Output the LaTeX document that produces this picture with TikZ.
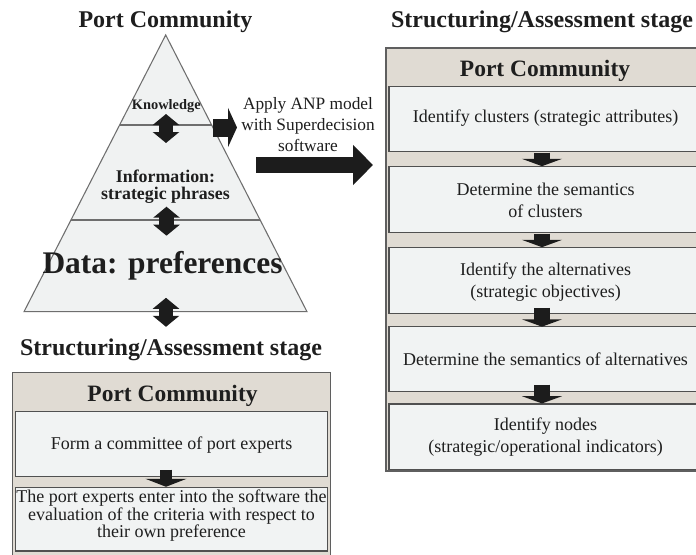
\documentclass[tikz,border=0pt]{standalone}
\usepackage{fontspec}
\setmainfont{Liberation Serif}
\usetikzlibrary{calc,fit,arrows.meta}
\definecolor{panelfill}{RGB}{224,219,211}
\definecolor{panelline}{RGB}{95,95,95}
\definecolor{boxfill}{RGB}{241,243,243}
\definecolor{boxline}{RGB}{80,80,80}
\definecolor{pyrfill}{RGB}{240,242,242}
\definecolor{pyrline}{RGB}{110,110,110}
\definecolor{arrowblack}{RGB}{28,28,28}
\definecolor{txt}{RGB}{30,30,30}
\begin{document}
\begin{tikzpicture}[x=0.75pt,y=-0.75pt,
  every node/.style={text=txt},
  ttl/.style={font=\bfseries\fontsize{18}{21}\selectfont},
  hdr/.style={font=\bfseries\fontsize{17.6}{21}\selectfont},
  panel/.style={draw=panelline, fill=panelfill, line width=1pt, inner sep=0pt},
  stepbox/.style={draw=boxline, fill=boxfill, line width=0.8pt, inner sep=0pt},
  boxtxt/.style={inner sep=0pt, align=center, font=\fontsize{13.5}{16.3}\selectfont},
  pyr/.style={draw=pyrline, fill=pyrfill, line width=0.8pt, line join=miter},
  pyrsep/.style={draw=pyrline, line width=0.8pt},
  vblock/.style={draw=arrowblack, line width=12pt, -{Triangle[width=30pt,length=5.5pt]}},
  vblocksmall/.style={draw=arrowblack, line width=9pt, -{Triangle[width=30.75pt,length=6pt]}},
  dblarr/.style={draw=arrowblack, line width=11pt, {Triangle[width=19.5pt,length=8.25pt]}-{Triangle[width=19.5pt,length=8.25pt]}},
  knowarr/.style={draw=arrowblack, line width=13.5pt, -{Triangle[width=29.25pt,length=6.75pt]}},
  bigarr/.style={draw=arrowblack, line width=12pt, -{Triangle[width=29.25pt,length=15pt]}}
]
\clip (0,0) rectangle (696,554);
\fill[white] (0,0) rectangle (696,554);

% ---------- pyramid ----------
\node[ttl] (ptitle) at (165.5,22) {Port Community};
\coordinate (apex) at (165.7,35);
\coordinate (bl) at (24,311.7);
\coordinate (br) at (307,311.7);
\draw[pyr] (apex) -- (br) -- (bl) -- cycle;
\draw[pyrsep] ($(apex)!0.3253!(bl)$) -- ($(apex)!0.3253!(br)$);
\draw[pyrsep] ($(apex)!0.6686!(bl)$) -- ($(apex)!0.6686!(br)$);

\node[font=\bfseries\fontsize{10.8}{13}\selectfont] (know) at (166.3,106.5) {Knowledge};
\node[font=\bfseries\fontsize{13.4}{12.8}\selectfont, align=center] (info) at (165.5,187) {Information:\\strategic phrases};
\node[font=\bfseries\fontsize{23.6}{28}\selectfont] (data) at (162.5,266) {Data: preferences};

\coordinate (l1) at (166,128.5);
\coordinate (l2) at (166.5,221.2);
\coordinate (l3) at (166,312.3);
\draw[dblarr] ($(l1)+(0,-14.5)$) -- ($(l1)+(0,14.5)$);
\draw[dblarr] ($(l2)+(0,-14.5)$) -- ($(l2)+(0,14.5)$);
\draw[dblarr] ($(l3)+(0,-14.5)$) -- ($(l3)+(0,14.5)$);

% ---------- ANP arrows ----------
\coordinate (ka) at (213,127.5);
\coordinate (kb) at (237,127.5);
\draw[knowarr] (ka) -- (kb);
\node[font=\fontsize{13}{15.8}\selectfont, align=center] (anp) at (308,125) {Apply ANP model\\with Superdecision\\software};
\coordinate (ba) at (256,165);
\coordinate (bb) at (373,165);
\draw[bigarr] (ba) -- (bb);

% ---------- right panel ----------
\node[ttl] (rtitle) at (542,22) {Structuring/Assessment stage};
\node[panel, fit={(386,48) (706,471)}] (P2) {};
\node[hdr] (h2) at (545,70.5) {Port Community};
\node[stepbox, fit={(389,86.5) (702,151.7)}] (b1) {};
\node[stepbox, fit={(389,166.7) (702,232.7)}] (b2) {};
\node[stepbox, fit={(389,247.7) (702,313.3)}] (b3) {};
\node[stepbox, fit={(389,326.7) (702,391.7)}] (b4) {};
\node[stepbox, fit={(389,404) (702,469.3)}] (b5) {};
\node[boxtxt] (b1t) at ($(b1.center)+(0,-1)$) {Identify clusters (strategic attributes)};
\node[boxtxt] (b2t) at ($(b2.center)+(0,1)$) {Determine the semantics\\of clusters};
\node[boxtxt] (b3t) at ($(b3.center)+(0,1.5)$) {Identify the alternatives\\(strategic objectives)};
\node[boxtxt] (b4t) at (b4.center) {Determine the semantics of alternatives};
\node[boxtxt] (b5t) at ($(b5.center)+(0,0.5)$) {Identify nodes\\(strategic/operational indicators)};
\draw[vblock] ($(b1.south)+(-3.5,0.5)$) -- ($(b2.north)+(-3.5,0)$);
\draw[vblock] ($(b2.south)+(-3.5,0.5)$) -- ($(b3.north)+(-3.5,0)$);
\draw[vblock] ($(b3.south)+(-3.5,-6)$) -- ($(b4.north)+(-3.5,0.5)$);
\draw[vblock] ($(b4.south)+(-3.5,-7.5)$) -- ($(b5.north)+(-3.5,0)$);

% ---------- left bottom panel ----------
\node[ttl] (ltitle) at (171,350) {Structuring/Assessment stage};
\node[panel, fit={(12.3,372.7) (330.7,562)}] (P1) {};
\node[hdr] (h1) at (172.5,395.5) {Port Community};
\node[stepbox, fit={(15.7,411.7) (327.3,476.7)}] (c1) {};
\node[stepbox, fit={(15.7,487.3) (327.3,551)}] (c2) {};
\node[boxtxt] (c1t) at ($(c1.center)+(0,1)$) {Form a committee of port experts};
\node[boxtxt, font=\fontsize{13.5}{12.2}\selectfont] (c2t) at ($(c2.center)+(0,-3.5)$) {The port experts enter into the software the\\evaluation of the criteria with respect to\\their own preference};
\draw[vblocksmall] ($(c1.south)+(-5.5,-7.5)$) -- ($(c2.north)+(-5.5,0)$);
\end{tikzpicture}
\end{document}
